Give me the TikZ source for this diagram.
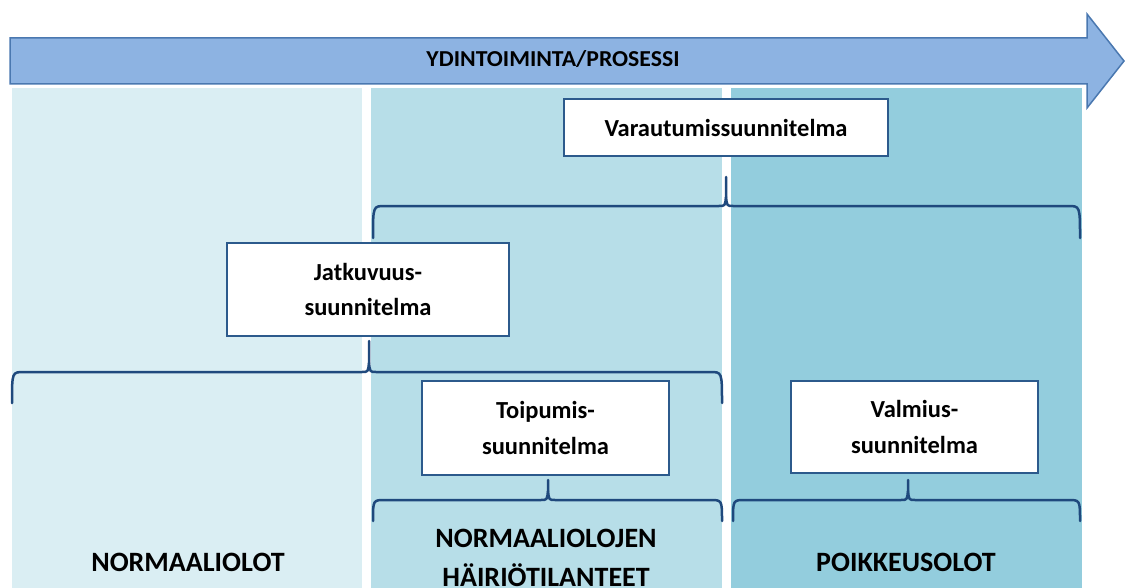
\documentclass[tikz,border=0pt]{standalone}
\usepackage{fontspec}
\setmainfont{Carlito}
\definecolor{colA}{HTML}{DAEEF3}
\definecolor{colB}{HTML}{B7DEE8}
\definecolor{colC}{HTML}{93CDDD}
\definecolor{arrowfill}{HTML}{8DB3E2}
\definecolor{arrowline}{HTML}{4A78B0}
\definecolor{bracecol}{HTML}{1F497D}
\definecolor{boxline}{HTML}{2C5A8C}
\tikzset{
  planbox/.style={draw=boxline, line width=2pt, fill=white, inner sep=0pt, font=\fontsize{24.5}{35.5}\selectfont\bfseries, align=center},
  bracestyle/.style={draw=bracecol, line width=2.5pt, line cap=round, line join=round},
  zonelabel/.style={font=\fontsize{28}{38.5}\selectfont\bfseries, align=center, inner sep=0pt}
}
% #1 left x, #2 right x, #3 middle x, #4 horizontal y, #5 tip y, #6 end y
\newcommand\curlybrace[6]{%
  \draw[bracestyle] (#1,#6) .. controls (#1,#4) .. (#1+12,#4) -- (#3-7,#4)
    .. controls (#3-1,#4) .. (#3,#4-9) -- (#3,#5);
  \draw[bracestyle] (#3,#4-9) .. controls (#3+1,#4) .. (#3+7,#4) -- (#2-12,#4)
    .. controls (#2,#4) .. (#2,#6);
}
\begin{document}
\begin{tikzpicture}[x=1pt,y=-1pt]
\useasboundingbox (0,0) rectangle (1126,588);
% columns
\fill[colA] (12,88) rectangle (362,588);
\fill[colB] (371,88) rectangle (722,588);
\fill[colC] (731,88) rectangle (1082,588);
% process arrow
\draw[fill=arrowfill, draw=arrowline, line width=1.5pt, line join=miter]
  (10,38) -- (1087,38) -- (1087,14) -- (1124,61) -- (1087,108) -- (1087,84) -- (10,84) -- cycle;
\node[inner sep=0pt] (process) at (553,59) {\resizebox{253pt}{16pt}{\bfseries YDINTOIMINTA/PROSESSI}};
% boxes
\node[planbox, minimum width=324pt, minimum height=57pt] (varaut) at (726,127.5) {Varautumissuunnitelma};
\node[planbox, minimum width=282pt, minimum height=93pt] (jatkuv) at (368,289.5) {Jatkuvuus-\\suunnitelma};
\node[planbox, minimum width=247pt, minimum height=94pt] (toipum) at (545.5,428) {Toipumis-\\suunnitelma};
\node[planbox, minimum width=247pt, minimum height=92pt] (valmius) at (914.5,427) {Valmius-\\suunnitelma};
% braces
\curlybrace{373}{1080}{726}{206}{177}{238}
\curlybrace{12}{722}{369}{372}{341}{403}
\curlybrace{373}{722}{548}{500}{480}{521}
\curlybrace{733}{1080}{908}{500}{480}{521}
% zone labels
\node[zonelabel] (normal) at (188,562) {NORMAALIOLOT};
\node[zonelabel] (hairio) at (546,558) {NORMAALIOLOJEN\\HÄIRIÖTILANTEET};
\node[zonelabel] (poikkeus) at (906,562) {POIKKEUSOLOT};
\end{tikzpicture}
\end{document}
